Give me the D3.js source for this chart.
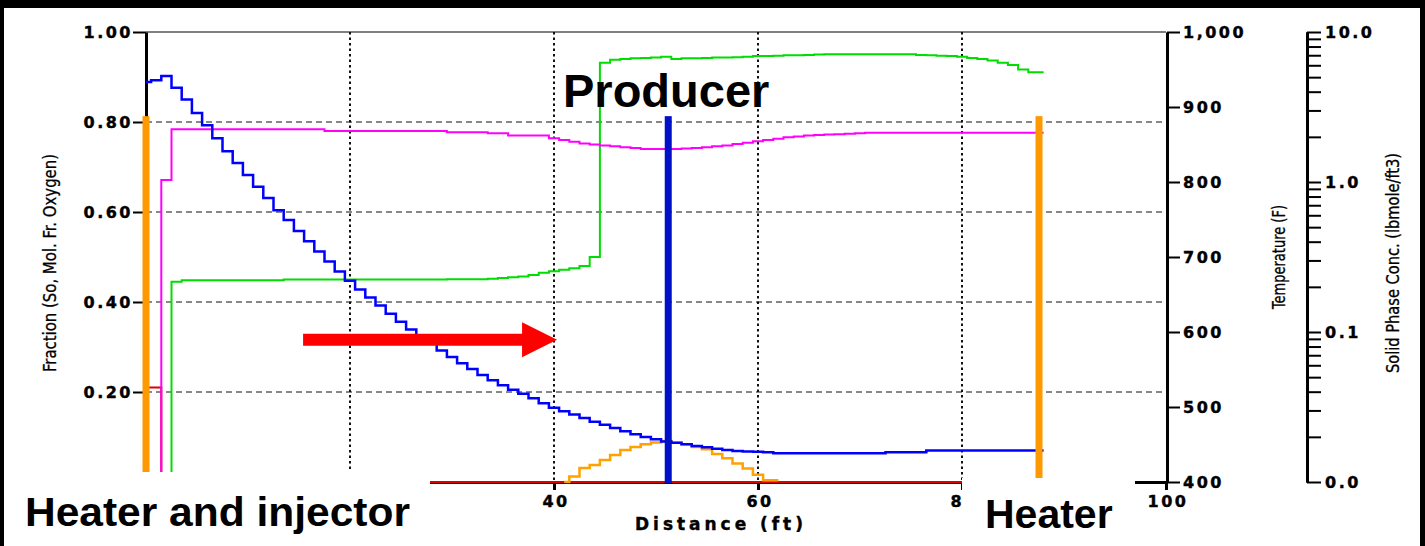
<!DOCTYPE html>
<html>
<head>
<meta charset="utf-8">
<script src="https://cdn.jsdelivr.net/npm/d3@7"></script>
<style>
  body { margin: 0; background: #000; }
  svg { display: block; }
</style>
</head>
<body>
<div id="chart"></div>
<script>
// Distance grid (ft), one value per 1 ft cell
const cellDistance = d3.range(0, 89);

// Oil saturation (blue, fraction axis)
const oilSaturation = [
  0.889, 0.893, 0.902, 0.876, 0.850, 0.820, 0.793, 0.764, 0.735, 0.709,
  0.682, 0.656, 0.631, 0.604, 0.582, 0.558, 0.535, 0.512, 0.490, 0.468,
  0.447, 0.428, 0.410, 0.392, 0.374, 0.356, 0.339, 0.322, 0.307, 0.292,
  0.278, 0.264, 0.251, 0.238, 0.226, 0.215, 0.205, 0.196, 0.186, 0.175,
  0.165, 0.157, 0.150, 0.142, 0.134, 0.127, 0.120, 0.113, 0.106, 0.100,
  0.095, 0.090, 0.087, 0.084, 0.080, 0.077, 0.074, 0.071, 0.069, 0.068,
  0.067, 0.066, 0.064, 0.064, 0.064, 0.064, 0.064, 0.064, 0.064, 0.064,
  0.064, 0.064, 0.064, 0.066, 0.066, 0.066, 0.066, 0.070, 0.070, 0.070,
  0.070, 0.070, 0.070, 0.070, 0.070, 0.070, 0.070, 0.070, 0.070
];

// Gas mole fraction (magenta, fraction axis)
const gasMoleFraction = [
  0, 0, 0.671, 0.784, 0.784, 0.784, 0.784, 0.784, 0.784, 0.784,
  0.784, 0.784, 0.784, 0.784, 0.784, 0.784, 0.784, 0.784, 0.780, 0.780,
  0.780, 0.780, 0.780, 0.780, 0.780, 0.780, 0.780, 0.780, 0.780, 0.780,
  0.777, 0.777, 0.777, 0.777, 0.775, 0.775, 0.770, 0.770, 0.770, 0.770,
  0.764, 0.760, 0.756, 0.752, 0.750, 0.748, 0.746, 0.744, 0.742, 0.740,
  0.740, 0.740, 0.740, 0.741, 0.742, 0.744, 0.746, 0.748, 0.751, 0.754,
  0.757, 0.760, 0.763, 0.766, 0.768, 0.770, 0.771, 0.772, 0.773, 0.774,
  0.775, 0.776, 0.776, 0.776, 0.776, 0.776, 0.776, 0.776, 0.776, 0.776,
  0.776, 0.776, 0.776, 0.776, 0.776, 0.776, 0.776, 0.776, 0.776
];

// Temperature (green, deg F axis)
const temperature = [
  400, 400, 400, 667, 669, 669, 669, 669, 669, 669,
  669, 669, 669, 669, 670, 670, 670, 670, 670, 670,
  670, 670, 670, 670, 670, 670, 670, 670, 670, 670,
  670.5, 670.5, 670.5, 670.5, 671, 672, 673, 674, 676, 679,
  681, 683, 685, 688, 700, 959, 963, 964, 965, 965.5,
  966, 967, 964, 965, 965, 965.5, 966, 966, 966.5, 967,
  968, 968, 968.5, 969, 969, 969.5, 970, 970.5, 970.5, 970.5,
  970.5, 970.5, 970.5, 970.5, 970.5, 970.5, 969.3, 969, 968.5, 968,
  967, 965.5, 964, 962, 959, 956, 950, 946.5, 946.5
];

// Oxygen mole fraction (red), breakpoints
const oxygenDistance = [0, 1, 2, 88];
const oxygenFraction = [0.21, 0.21, 0, 0];

// Solid phase (coke) hump (orange), plotted on fraction axis
const solidDistance = [41, 42, 43, 44, 45, 46, 47, 48, 49, 50, 51,
  52, 53, 54, 55, 56, 57, 58, 59, 60, 61, 62];
const solidValue = [0, 0.012, 0.031, 0.038, 0.049, 0.060, 0.071, 0.078, 0.084, 0.088, 0.091,
  0.087, 0.084, 0.078, 0.073, 0.062, 0.053, 0.041, 0.030, 0.016, 0.004, 0.004];

// Wells (vertical bars)
const wellDistance = [0, 51.2, 87.55];
const wellTop = [0.813, 0.813, 0.813];
const wellColor = ["#ff9900", "#0010c8", "#ff9900"];

// Axis ticks
const fractionTicks = [0.2, 0.4, 0.6, 0.8, 1.0];
const temperatureTicks = [400, 500, 600, 700, 800, 900, 1000];
const solidMajorTicks = [0.01, 0.1, 1, 10];
const solidMinorTicks = [0.02, 0.03, 0.04, 0.05, 0.06, 0.07, 0.08, 0.09,
  0.2, 0.3, 0.4, 0.5, 0.6, 0.7, 0.8, 0.9, 2, 3, 4, 5, 6, 7, 8, 9];
const distanceTicks = [40, 60, 80, 100];
const fractionGrid = [0.2, 0.4, 0.6, 0.8];
const distanceGrid = [20, 40, 60, 80];

// Injection arrow (annotation, in data units)
const arrowFrom = 15.4, arrowTo = 40.3, arrowLevel = 0.316;

const width = 1425, height = 546;

const svg = d3.select("#chart").append("svg")
  .attr("width", width)
  .attr("height", height);

// black frame with white page
svg.append("rect").attr("width", width).attr("height", height).attr("fill", "#000");
svg.append("rect").attr("x", 4).attr("y", 8).attr("width", width - 9).attr("height", height - 8).attr("fill", "#fff");

// scales
const x = d3.scaleLinear().domain([0, 100]).range([146, 1166]);
const yFrac = d3.scaleLinear().domain([0, 1]).range([482, 32]);
const yTemp = d3.scaleLinear().domain([400, 1000]).range([482, 32]);
const ySolid = d3.scaleLog().domain([0.01, 10]).range([482, 32]);

// grid
svg.append("g").selectAll("line").data(fractionGrid).join("line")
  .attr("x1", x(0)).attr("x2", x(100))
  .attr("y1", d => yFrac(d)).attr("y2", d => yFrac(d))
  .attr("stroke", "#111").attr("stroke-width", 1).attr("stroke-dasharray", "6,4");
svg.append("line")
  .attr("x1", x(0)).attr("x2", x(100)).attr("y1", yFrac(1)).attr("y2", yFrac(1))
  .attr("stroke", "#555").attr("stroke-width", 1.5);
svg.append("g").selectAll("line").data(distanceGrid).join("line")
  .attr("x1", d => x(d)).attr("x2", d => x(d))
  .attr("y1", yFrac(1)).attr("y2", yFrac(0))
  .attr("stroke", "#111").attr("stroke-width", 2).attr("stroke-dasharray", "2.5,3");

const tickFont = "'DejaVu Sans', Verdana, sans-serif";

function styleAxis(g, pathWidth, tickWidth) {
  g.select(".domain").attr("stroke", "#000").attr("stroke-width", pathWidth);
  g.selectAll(".tick line").attr("stroke", "#000").attr("stroke-width", tickWidth);
  g.selectAll(".tick text")
    .attr("fill", "#000")
    .style("font-family", tickFont)
    .style("font-weight", "bold")
    .style("font-size", "16px")
    .style("letter-spacing", "2.5px")
    .style("stroke", "#000")
    .style("stroke-width", "0.4px");
}

// left fraction axis
svg.append("g")
  .attr("transform", `translate(${x(0)},0)`)
  .call(d3.axisLeft(yFrac).tickValues(fractionTicks).tickFormat(d3.format(".2f"))
    .tickSize(13).tickPadding(0).tickSizeOuter(0))
  .call(g => styleAxis(g, 3, 2));

// temperature axis
svg.append("g")
  .attr("transform", `translate(${x(100) + 1},0)`)
  .call(d3.axisRight(yTemp).tickValues(temperatureTicks).tickFormat(d3.format(","))
    .tickSize(13).tickPadding(3).tickSizeOuter(0))
  .call(g => styleAxis(g, 3, 2));

// solid phase log axis
const solidAxisX = 1307;
svg.append("g")
  .attr("transform", `translate(${solidAxisX},0)`)
  .call(d3.axisRight(ySolid).tickValues(solidMinorTicks).tickFormat("")
    .tickSize(14).tickSizeOuter(0))
  .call(g => styleAxis(g, 3, 2));
svg.append("g")
  .attr("transform", `translate(${solidAxisX},0)`)
  .call(d3.axisRight(ySolid).tickValues(solidMajorTicks).tickFormat(d3.format(".1f"))
    .tickSize(14).tickPadding(4).tickSizeOuter(0))
  .call(g => styleAxis(g, 3, 2));

// distance axis
svg.append("g")
  .attr("transform", `translate(0,${yFrac(0)})`)
  .call(d3.axisBottom(x).tickValues(distanceTicks).tickFormat(d3.format("d"))
    .tickSize(8).tickPadding(6).tickSizeOuter(0))
  .call(g => styleAxis(g, 3, 3))
  .call(g => g.selectAll(".tick text").attr("dx", "1.5px"));

// series
const fracStep = d3.line().curve(d3.curveStep).x(d => x(d[0])).y(d => yFrac(d[1]));
const tempStep = d3.line().curve(d3.curveStep).x(d => x(d[0])).y(d => yTemp(d[1]));

svg.append("path")
  .attr("d", fracStep(d3.zip(oxygenDistance, oxygenFraction)))
  .attr("fill", "none").attr("stroke", "#e00000").attr("stroke-width", 2);

svg.append("path")
  .attr("d", fracStep(d3.zip(solidDistance, solidValue)))
  .attr("fill", "none").attr("stroke", "#ffa200").attr("stroke-width", 2.5);

svg.append("path")
  .attr("d", tempStep(d3.zip(cellDistance, temperature)))
  .attr("fill", "none").attr("stroke", "#00dd00").attr("stroke-width", 2);

svg.append("path")
  .attr("d", fracStep(d3.zip(cellDistance, gasMoleFraction)))
  .attr("fill", "none").attr("stroke", "#ff00ff").attr("stroke-width", 2);

svg.append("path")
  .attr("d", fracStep(d3.zip(cellDistance, oilSaturation)))
  .attr("fill", "none").attr("stroke", "#0000ff").attr("stroke-width", 2.5);

// wells
svg.append("g").selectAll("rect").data(wellDistance).join("rect")
  .attr("x", d => x(d) - 3.5)
  .attr("width", 7)
  .attr("y", (d, i) => yFrac(wellTop[i]))
  .attr("height", (d, i) => yFrac(0) + 1 - yFrac(wellTop[i]))
  .attr("fill", (d, i) => wellColor[i]);

// arrow
const ax0 = x(arrowFrom), ax1 = x(arrowTo), ay = yFrac(arrowLevel);
const headLen = 35, headHalf = 17.5, shaftHalf = 6;
svg.append("path")
  .attr("d", `M${ax0},${ay - shaftHalf}L${ax1 - headLen},${ay - shaftHalf}L${ax1 - headLen},${ay - headHalf}` +
    `L${ax1},${ay}L${ax1 - headLen},${ay + headHalf}L${ax1 - headLen},${ay + shaftHalf}L${ax0},${ay + shaftHalf}Z`)
  .attr("fill", "#ff0000");

// white label boxes
svg.append("rect").attr("x", 4).attr("y", 472).attr("width", 426).attr("height", 74).attr("fill", "#fff");
svg.append("rect").attr("x", 962).attr("y", 478).attr("width", 173).attr("height", 68).attr("fill", "#fff");

// axis titles
const titleFont = "'Liberation Sans Narrow', 'DejaVu Sans Condensed', 'Liberation Sans', sans-serif";
function vTitle(text, cx, cy, len) {
  svg.append("text")
    .attr("transform", `translate(${cx},${cy}) rotate(-90)`)
    .attr("text-anchor", "middle")
    .attr("dy", "0.35em")
    .attr("textLength", len)
    .attr("lengthAdjust", "spacingAndGlyphs")
    .style("font-family", titleFont)
    .style("font-size", "18px")
    .style("stroke", "#000")
    .style("stroke-width", "0.3px")
    .text(text);
}
vTitle("Fraction (So, Mol. Fr. Oxygen)", 50, 263, 218);
vTitle("Temperature (F)", 1279, 257, 104);
vTitle("Solid Phase Conc. (lbmole/ft3)", 1393, 263, 220);

svg.append("text")
  .attr("x", 719).attr("y", 530)
  .attr("text-anchor", "middle")
  .attr("textLength", 168)
  .attr("lengthAdjust", "spacing")
  .style("font-family", tickFont)
  .style("font-weight", "bold")
  .style("font-size", "17px")
  .style("stroke", "#000")
  .style("stroke-width", "0.4px")
  .text("Distance (ft)");

// annotations
const bigFont = "'Liberation Sans', Arial, sans-serif";
svg.append("text").attr("x", 25).attr("y", 526)
  .attr("textLength", 385).attr("lengthAdjust", "spacingAndGlyphs")
  .style("font-family", bigFont).style("font-weight", "bold").style("font-size", "41px")
  .text("Heater and injector");
svg.append("text").attr("x", 985).attr("y", 528)
  .style("font-family", bigFont).style("font-weight", "bold").style("font-size", "41px")
  .text("Heater");
svg.append("text").attr("x", 563).attr("y", 107)
  .style("font-family", bigFont).style("font-weight", "bold").style("font-size", "47px")
  .text("Producer");
</script>
</body>
</html>
